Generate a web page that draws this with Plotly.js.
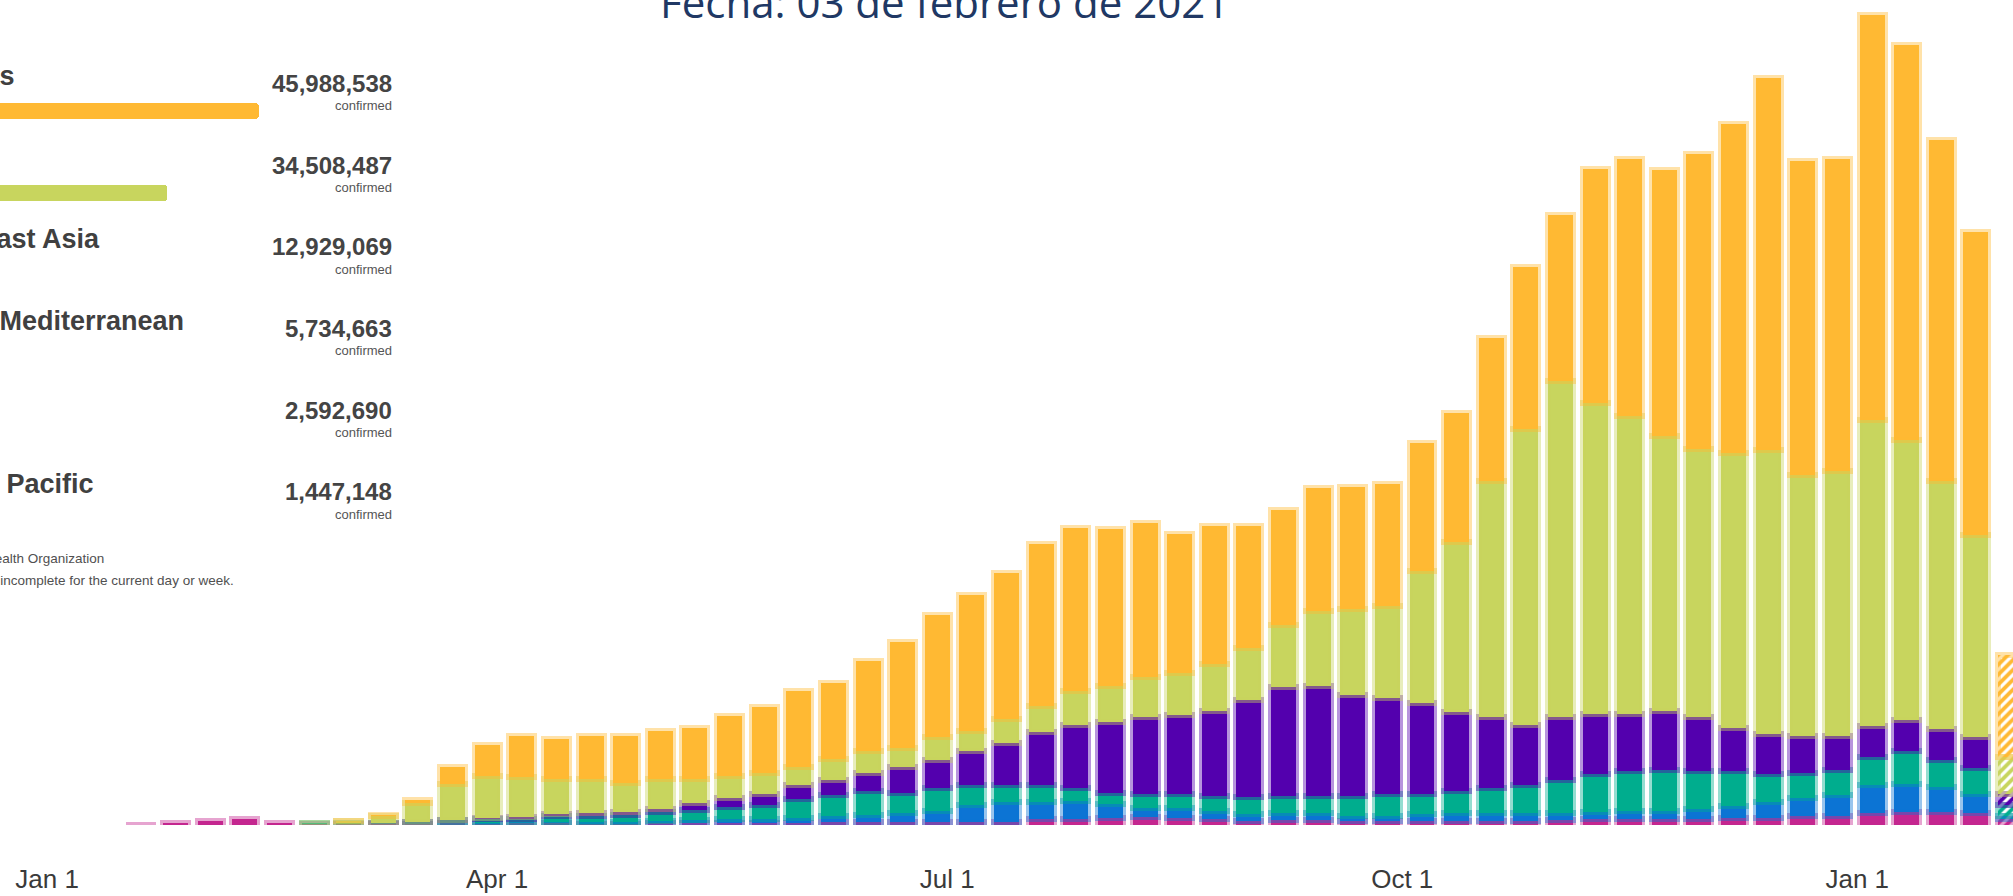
<!DOCTYPE html>
<html>
<head>
<meta charset="utf-8">
<script src="https://cdn.plot.ly/plotly-3.0.1.min.js"></script>
<style>
html,body{margin:0;padding:0;background:#ffffff;overflow:hidden;}
#chart{width:2013px;height:896px;}
</style>
</head>
<body>
<div id="chart"></div>
<script>
// ---- DATA: weekly new confirmed cases by WHO region (thousands of cases) ----
const weeks = [
 '2020-01-20','2020-01-27','2020-02-03','2020-02-10','2020-02-17','2020-02-24','2020-03-02','2020-03-09','2020-03-16','2020-03-23',
 '2020-03-30','2020-04-06','2020-04-13','2020-04-20','2020-04-27','2020-05-04','2020-05-11','2020-05-18','2020-05-25','2020-06-01',
 '2020-06-08','2020-06-15','2020-06-22','2020-06-29','2020-07-06','2020-07-13','2020-07-20','2020-07-27','2020-08-03','2020-08-10',
 '2020-08-17','2020-08-24','2020-08-31','2020-09-07','2020-09-14','2020-09-21','2020-09-28','2020-10-05','2020-10-12','2020-10-19',
 '2020-10-26','2020-11-02','2020-11-09','2020-11-16','2020-11-23','2020-11-30','2020-12-07','2020-12-14','2020-12-21','2020-12-28',
 '2021-01-04','2021-01-11','2021-01-18','2021-01-25','2021-02-01'
];
const westernPacific = [2.5,12.4,24.8,37.2,14.3,8.7,6.2,4.3,4.3,12.4,9.3,12.4,11.2,9.3,7.4,12.4,10.5,15.5,15.5,15.5,18.6,
 18.6,18.6,18.6,18.6,21.7,37.2,37.2,46.5,49.6,43.4,
 37.2,24.8,31,31,24.8,24.8,27.9,27.9,27.9,27.9,
 31,37.2,37.2,37.2,37.2,43.4,46.5,55.8,55.8,74.4,83.7,83.7,74.4,37.2];
const africa = [0,0,0,0,0,0,0,0,0.6,3.1,3.1,4.3,7.4,9.3,11.2,15.5,20.5,24.8,21.7,31,40.3,
 46.5,55.8,68.2,105.4,120.9,105.4,114.7,86.8,55.8,62,
 49.6,46.5,43.4,43.4,31,31,43.4,46.5,46.5,46.5,
 43.4,43.4,49.6,49.6,62,77.5,96.1,114.7,130.2,173.6,173.6,155,117.8,18.6];
const easternMediterranean = [0,0,0,0,0,1.2,5,9.3,11.2,15.5,27.9,23.6,40.3,37.2,43.4,52.7,65.1,71.3,86.8,114.7,130.2,
 145.7,127.1,142.6,124,105.4,105.4,77.5,68.2,86.8,86.8,
 93,102.3,105.4,105.4,124,136.4,120.9,136.4,155,173.6,
 204.6,235.6,248,257.3,235.6,213.9,176.7,155,158.1,173.6,201.5,164.3,161.2,68.2];
const southEastAsia = [0,0,0,0,0,0,0,0.6,0.6,3.1,3.1,9.3,12.4,18.6,18.6,21.7,40.3,58.9,68.2,86.8,93,
 111.6,161.2,173.6,210.8,260.4,328.6,390.6,440.2,480.5,489.8,
 527,601.4,675.8,682,629.3,598.3,564.2,492.9,440.2,372,
 390.6,372,353.4,362.7,334.8,266.6,248,226.3,207.7,195.3,192.2,192.2,192.2,68.2];
const europe = [0,0,0,0,0,2.5,13.6,43.4,120.9,223.2,260.4,248,213.9,210.8,182.9,186,151.9,136.4,133.3,114.7,130.2,
 136.4,117.8,142.6,127.1,151.9,161.2,210.8,220.1,248,263.5,
 291.4,322.4,384.4,465,530.1,567.3,818.4,1050.9,1463.2,1835.2,
 2086.3,1931.3,1850.7,1708.1,1664.7,1708.1,1760.8,1621.3,1646.1,1897.2,1736,1537.6,1252.4,229.4];
const americas = [0,0,0,0,0,0,0.6,3.1,18.6,105.4,195.3,257.3,248,269.7,291.4,297.6,316.2,372,409.2,471.2,471.2,
 558,654.1,756.4,840.1,902.1,1004.4,1013.7,973.4,954.8,861.8,
 855.6,756.4,713,762.6,756.4,756.4,793.6,799.8,886.6,1004.4,
 1029.2,1450.8,1593.4,1649.2,1829,2039.8,2306.4,1946.8,1934.4,2507.9,2449,2114.2,1878.6,632.4];

// cumulative totals shown in the left panel
const regions = ['Americas','Europe','South-East Asia','Eastern Mediterranean','Africa','Western Pacific'];
const regionTotals = [45988538, 34508487, 12929069, 5734663, 2592690, 1447148];
const totalLabel = 'confirmed';
const titleText = 'Fecha: 03 de febrero de 2021';
const footerLines = ['Source: World Health Organization', 'Data may be incomplete for the current day or week.'];

// ---- STYLE ----
const regionColor = {
  'Americas':'#ffb933',
  'Europe':'#c8d55e',
  'South-East Asia':'#5300ae',
  'Eastern Mediterranean':'#00ad8e',
  'Africa':'#0c74d4',
  'Western Pacific':'#c42690'
};
const W = 2013, PLOT_H = 825;
const px2x = p => p / W;
const px2y = p => (PLOT_H - p) / PLOT_H;
function tint(hex, a){
  const r = parseInt(hex.slice(1,3),16), g = parseInt(hex.slice(3,5),16), b = parseInt(hex.slice(5,7),16);
  return 'rgba(' + r + ',' + g + ',' + b + ',' + a + ')';
}
const DAY = 86400000;
const stackOrder = [
  ['Western Pacific', westernPacific],
  ['Africa', africa],
  ['Eastern Mediterranean', easternMediterranean],
  ['South-East Asia', southEastAsia],
  ['Europe', europe],
  ['Americas', americas]
];
const lastIdx = weeks.length - 1;
const patternShape = weeks.map((w, i) => i === lastIdx ? '/' : '');

const traces = stackOrder.map(([name, vals]) => ({
  type: 'bar',
  name: name,
  x: weeks,
  y: vals,
  width: 5.05 * DAY,
  xaxis: 'x', yaxis: 'y',
  hoverinfo: 'skip',
  marker: {
    color: regionColor[name],
    line: { color: tint(regionColor[name], 0.42), width: vals.map(v => v > 0 ? 6 : 0) },
    pattern: { shape: patternShape, size: 7, solidity: 0.55 }
  }
}));

// left panel bars (horizontal, on their own axes)
traces.push({
  type: 'bar',
  orientation: 'h',
  x: regionTotals,
  y: regions,
  xaxis: 'x2', yaxis: 'y2',
  width: 0.2,
  hoverinfo: 'skip',
  marker: { color: regions.map(r => regionColor[r]), cornerradius: 4, line: { width: 0 } }
});

// ---- ANNOTATIONS ----
const annotations = [];
const fontA = 'Liberation Sans, Arial, sans-serif';
annotations.push({
  text: titleText, xref: 'paper', yref: 'paper',
  x: px2x(944), y: px2y(18 - 0.388 * 42), xanchor: 'center', yanchor: 'middle',
  showarrow: false, font: { family: 'Open Sans, sans-serif', size: 42, color: '#203864' }
});
regions.forEach((r, i) => {
  const base = 91.7 + 81.7 * i;
  annotations.push({
    text: '<b>' + r + '</b>', xref: 'paper', yref: 'paper',
    x: px2x(-109), y: px2y(base - 6.5 - 0.3465 * 27), xanchor: 'left', yanchor: 'middle',
    showarrow: false, font: { family: fontA, size: 27, color: '#404040' }
  });
  annotations.push({
    text: '<b>' + regionTotals[i].toLocaleString('en-US') + '</b>', xref: 'paper', yref: 'paper',
    x: px2x(394), y: px2y(base - 0.3465 * 24), xanchor: 'right', yanchor: 'middle',
    showarrow: false, font: { family: fontA, size: 24, color: '#444444' }
  });
  annotations.push({
    text: totalLabel, xref: 'paper', yref: 'paper',
    x: px2x(394), y: px2y(base + 18.5 - 0.3465 * 13), xanchor: 'right', yanchor: 'middle',
    showarrow: false, font: { family: fontA, size: 13, color: '#555555' }
  });
});
[[footerLines[0], 106, 563], [footerLines[1], 236, 585]].forEach(([t, xr, b]) => {
  annotations.push({
    text: t, xref: 'paper', yref: 'paper',
    x: px2x(xr), y: px2y(b - 0.3465 * 13.5), xanchor: 'right', yanchor: 'middle',
    showarrow: false, font: { family: fontA, size: 13.5, color: '#505050' }
  });
});

const layout = {
  width: 2013, height: 896,
  margin: { l: 0, r: 0, t: 0, b: 71, pad: 0 },
  paper_bgcolor: '#ffffff',
  plot_bgcolor: 'rgba(0,0,0,0)',
  barmode: 'stack',
  showlegend: false,
  xaxis: {
    type: 'date',
    range: ['2019-12-22 11:48', '2021-02-01 11:48'],
    domain: [0, 1],
    tick0: '2020-01-01', dtick: 'M3', tickformat: '%b %-d',
    ticks: '', showgrid: false, zeroline: false, showline: false,
    automargin: false, ticklabelstandoff: 36,
    tickfont: { family: fontA, size: 26, color: '#3a3a3a' },
    fixedrange: true
  },
  yaxis: {
    range: [0, 5115], domain: [0, 1],
    visible: false, showgrid: false, zeroline: false, fixedrange: true
  },
  xaxis2: {
    anchor: 'y2', domain: [0, 0.2], range: [13.57e6, 63.97e6],
    visible: false, showgrid: false, zeroline: false, fixedrange: true
  },
  yaxis2: {
    anchor: 'x2', domain: [px2y(562), px2y(70)], type: 'category',
    categoryorder: 'array', categoryarray: regions, range: [5.5, -0.5],
    visible: false, showgrid: false, zeroline: false, fixedrange: true
  },
  annotations: annotations
};

Plotly.newPlot('chart', traces, layout, { displayModeBar: false, staticPlot: true });
</script>
</body>
</html>
